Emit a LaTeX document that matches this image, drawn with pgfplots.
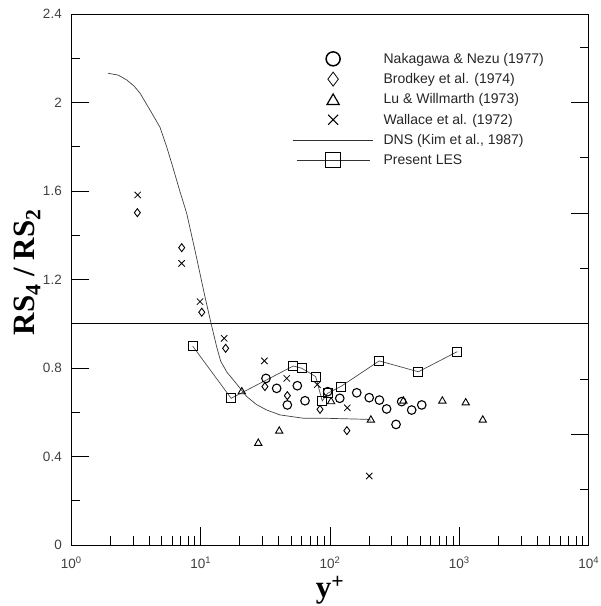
\documentclass[border=0pt]{standalone}
\usepackage{fontspec}
\setmainfont{Liberation Sans}
\newfontfamily\serifb{Liberation Serif}
\usepackage{pgfplots}
\pgfplotsset{compat=1.18}
\usetikzlibrary{plotmarks}
\pgfplotsset{
  legmark/.style={legend image code/.code={\path[draw=none,fill=none] (0pt,-8pt) rectangle (91pt,8pt); \draw[##1] plot[only marks] coordinates {(40.5pt,0pt)};}},
  legtri/.style={legend image code/.code={\path[draw=none,fill=none] (0pt,-8pt) rectangle (91pt,8pt); \draw[##1] plot[only marks] coordinates {(40.5pt,-1.5pt)};}},
  legline/.style={legend image code/.code={\path[draw=none,fill=none] (0pt,-8pt) rectangle (91pt,8pt); \draw[##1] (0pt,0pt) -- (80pt,0pt);}},
  legles/.style={legend image code/.code={\path[draw=none,fill=none] (0pt,-8pt) rectangle (91pt,8pt); \draw[##1] (4pt,0pt) -- (77pt,0pt); \draw[black, line width=0.9pt] (33pt,-7.5pt) rectangle (48pt,7.5pt);}},
  frame/.style={scale only axis, width=517.4pt, height=531pt,
    major tick length=18pt, minor tick length=9pt,
    every tick/.style={black, line width=0.8pt},
    axis line style={black, line width=0.9pt}},
}

\begin{document}
\begin{tikzpicture}
\path[use as bounding box] (-71.3pt,-61pt) rectangle (529.7pt,545pt);
\begin{axis}[
  frame, at={(0,0)}, anchor=south west, tick align=inside,
  xmode=log, xmin=1, xmax=10000, ymin=0, ymax=2.4,
  axis x line*=bottom, axis y line*=left,
  xtick={1,10,100,1000,10000},
  xticklabels={10\textsuperscript{0},10\textsuperscript{1},10\textsuperscript{2},10\textsuperscript{3},10\textsuperscript{4}},
  minor xtick={2,3,4,5,6,7,8,9,20,30,40,50,60,70,80,90,200,300,400,500,600,700,800,900,2000,3000,4000,5000,6000,7000,8000,9000},
  ytick={0,0.4,0.8,1.2,1.6,2,2.4},
  yticklabels={0,0.4,0.8,1.2,1.6,2,2.4},
  minor ytick={0.2,0.6,1,1.4,1.8,2.2},
  ticklabel style={font=\fontsize{13.5}{15}\selectfont, text=black!75},
  yticklabel style={xshift=-6pt},
  xticklabel style={yshift=-8pt},
  xlabel={\serifb\bfseries y\textsuperscript{+}},
  ylabel={\serifb\bfseries RS\textsubscript{4} / RS\textsubscript{2}},
  label style={font=\fontsize{31}{33}\selectfont},
  xlabel style={at={(axis description cs:0.5,-0.085)}, anchor=center},
  ylabel style={at={(axis description cs:-0.085,0.514)}, anchor=center},
  legend cell align=left,
  legend style={at={(rel axis cs:0.4266,0.931)}, anchor=north west,
    draw=none, fill=none, inner sep=0pt, row sep=4.3pt,
    font=\fontsize{14}{16}\selectfont, text=black!85,
    nodes={inner sep=0pt}},
]
% legend images
\addlegendimage{black, line width=1.5pt, mark=o, mark size=7pt, legmark}
\addlegendentry{Nakagawa \& Nezu (1977)}
\addlegendimage{black, line width=0.8pt, mark=diamond, mark size=7pt, legmark}
\addlegendentry{Brodkey et al. (1974)}
\addlegendimage{black, line width=1.2pt, mark=triangle, mark size=7pt, legtri}
\addlegendentry{Lu \& Willmarth (1973)}
\addlegendimage{black, line width=1.2pt, mark=x, mark size=7pt, legmark}
\addlegendentry{Wallace et al. (1972)}
\addlegendimage{black!80, line width=0.8pt, legline}
\addlegendentry{DNS (Kim et al., 1987)}
\addlegendimage{black!80, line width=0.8pt, legles}
\addlegendentry{Present LES}

% reference line y = 1
\addplot[black, line width=0.9pt, forget plot] coordinates {(1,1) (10000,1)};

% DNS (Kim et al., 1987)
\addplot[black!75, line width=0.7pt, forget plot] coordinates {
(1.93,2.132) (2.30,2.124) (2.68,2.102) (3.05,2.075) (3.40,2.042) (4.06,1.966)
(4.85,1.888) (5.46,1.800) (6.08,1.710) (6.90,1.600) (7.80,1.499) (9.03,1.333)
(10.8,1.122) (12.0,1.005) (13.3,0.896) (14.3,0.830) (16.0,0.780) (17.9,0.746)
(22.7,0.671) (27.0,0.635) (32.4,0.610) (41,0.588) (62,0.573) (89,0.573)
(192,0.568) (207,0.565)};

% Present LES
\addplot[black!70, line width=0.7pt, mark=square, mark size=4.5pt,
  mark options={black, solid, line width=0.9pt}, forget plot] coordinates {
(8.68,0.899) (17.2,0.663) (52.0,0.809) (60.4,0.799) (77.5,0.761) (87.1,0.651)
(95.9,0.686) (121,0.716) (240,0.832) (482,0.783) (964,0.874)};

% Nakagawa & Nezu (1977)
\addplot[only marks, mark=o, mark size=4.3pt, mark options={black, line width=1.1pt}, forget plot] coordinates {
(32.0,0.753) (38.7,0.708) (46.8,0.633) (55.9,0.720) (64.1,0.652) (96,0.693)
(119,0.663) (161,0.688) (201,0.666) (241,0.655) (274,0.615) (324,0.545)
(358,0.648) (428,0.610) (512,0.633)};

% Brodkey et al. (1974)
\addplot[only marks, mark=diamond, mark size=4pt, mark options={black, line width=0.9pt}, forget plot] coordinates {
(3.24,1.502) (7.14,1.344) (10.2,1.052) (15.6,0.889) (31.4,0.716) (46.8,0.675)
(83.7,0.613) (135,0.517)};

% Lu & Willmarth (1973)
\addplot[only marks, mark=triangle, mark size=4.2pt, mark options={black, line width=0.9pt}, forget plot] coordinates {
(20.8,0.693) (27.9,0.460) (40.5,0.515) (102,0.648) (207,0.565) (369,0.651)
(739,0.651) (1120,0.643) (1517,0.565)};

% Wallace et al. (1972)
\addplot[only marks, mark=x, mark size=4.5pt, mark options={black, line width=0.8pt}, forget plot] coordinates {
(3.26,1.582) (7.13,1.273) (9.89,1.100) (15.2,0.934) (31.1,0.832) (46.3,0.753)
(79.8,0.725) (136,0.620) (201,0.312)};
\end{axis}

% left-hand y ticks: right edge of a frame placed left of the plot, ticks outward
\begin{axis}[
  frame, at={(0,0)}, anchor=south east, tick align=outside,
  xmin=0, xmax=1, ymin=0, ymax=2.4,
  axis y line*=right, hide x axis,
  ytick={0.4,0.8,1.2,1.6,2},
  minor ytick={0.2,0.6,1,1.4,1.8,2.2},
  yticklabels={},
]
\end{axis}

% right-hand axis ticks and top edge
\begin{axis}[
  frame, at={(0,0)}, anchor=south west, tick align=inside,
  xmin=0, xmax=1, ymin=0, ymax=2.4,
  axis y line*=right, axis x line*=top,
  xtick=\empty,
  ytick={0.5,1,1.5,2}, minor ytick={0.25,0.75,1.25,1.75,2.25},
  yticklabels={},
]
\end{axis}
\end{tikzpicture}
\end{document}
